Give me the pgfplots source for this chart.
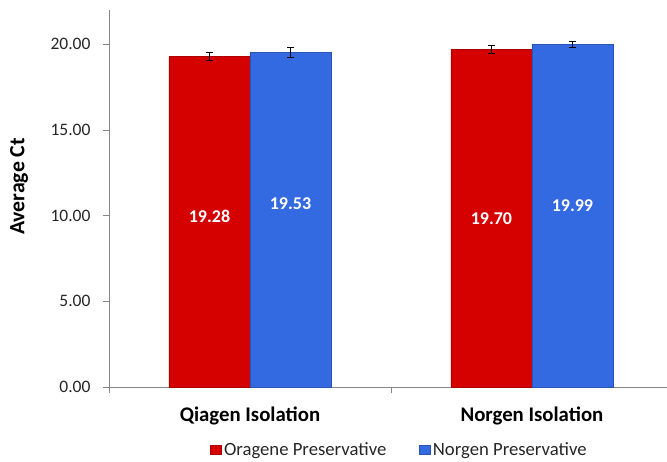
\documentclass[border=0pt]{standalone}
\usepackage{fontspec}
\setmainfont{Carlito}
\usepackage{pgfplots}
\pgfplotsset{compat=1.18}
\definecolor{barred}{RGB}{213,0,0}
\definecolor{barblue}{RGB}{51,105,225}
\definecolor{axgray}{RGB}{134,134,134}
\definecolor{txt}{RGB}{38,38,38}
\begin{document}
\begin{tikzpicture}
\begin{axis}[
  at={(0,0)}, anchor=south west,
  scale only axis, width=558bp, height=377bp,
  xmin=-0.5, xmax=1.479, ymin=0, ymax=22,
  axis x line*=bottom, axis y line*=left,
  axis line style={axgray, line width=0.8bp},
  tick style={axgray, line width=0.8bp},
  tick align=outside, major tick length=6bp,
  ytick={0,5,10,15,20},
  /pgf/number format/assume math mode=true,
  yticklabel style={/pgf/number format/fixed, /pgf/number format/fixed zerofill, /pgf/number format/precision=2,
    font=\fontsize{17.5bp}{20bp}\selectfont, text=txt, xshift=-9bp},
  xtick={-0.5,0.5,1.5}, xticklabels={,,},
  extra x ticks={0,1},
  extra x tick labels={Qiagen Isolation, Norgen Isolation},
  extra x tick style={major tick length=0pt, tick label style={font=\bfseries\fontsize{20.8bp}{23bp}\selectfont, text=black, yshift=-16bp}},
  ylabel={Average Ct},
  ylabel style={at={(axis description cs:-0.1613,0.532)}, anchor=center, font=\bfseries\fontsize{21.8bp}{24bp}\selectfont, text=black},
  legend style={at={(axis description cs:0.5206,-0.167)}, anchor=center, draw=none, fill=none,
    font=\fontsize{18.7bp}{21bp}\selectfont, text=txt, legend columns=2,
    /tikz/every even column/.append style={column sep=31bp},
    /tikz/every odd column/.append style={column sep=0bp}},
  legend cell align=left,
  legend image code/.code={\fill[#1] (0bp,-4.5bp) rectangle (11bp,4.5bp);},
]
\addplot[ybar, bar width=81bp, bar shift=0pt, fill=barred, draw=barred!80!black, line width=0.6bp,
  error bars/.cd, y dir=both, y explicit,
  error bar style={black, line width=0.9bp},
  error mark options={rotate=90, mark size=3.5bp, black, line width=0.9bp}]
  coordinates {(-0.1436,19.28) +- (0,0.22) (0.8564,19.70) +- (0,0.22)};
\addlegendentry{Oragene Preservative}
\addplot[ybar, bar width=81bp, bar shift=0pt, fill=barblue, draw=barblue!80!black, line width=0.6bp,
  error bars/.cd, y dir=both, y explicit,
  error bar style={black, line width=0.9bp},
  error mark options={rotate=90, mark size=3.5bp, black, line width=0.9bp}]
  coordinates {(0.1436,19.53) +- (0,0.28) (1.1436,19.99) +- (0,0.17)};
\addlegendentry{Norgen Preservative}
\addplot[draw=none, mark=none, forget plot, nodes near coords, point meta=explicit symbolic,
  every node near coord/.append style={anchor=center, text=white, font=\bfseries\fontsize{18bp}{20bp}\selectfont}]
  coordinates {(-0.1436,9.98)[19.28] (0.1436,10.68)[19.53] (0.8564,9.80)[19.70] (1.1436,10.56)[19.99]};
\end{axis}
\pgfresetboundingbox
\path[use as bounding box] (-109bp,-75bp) rectangle (558bp,387bp);
\end{tikzpicture}
\end{document}
